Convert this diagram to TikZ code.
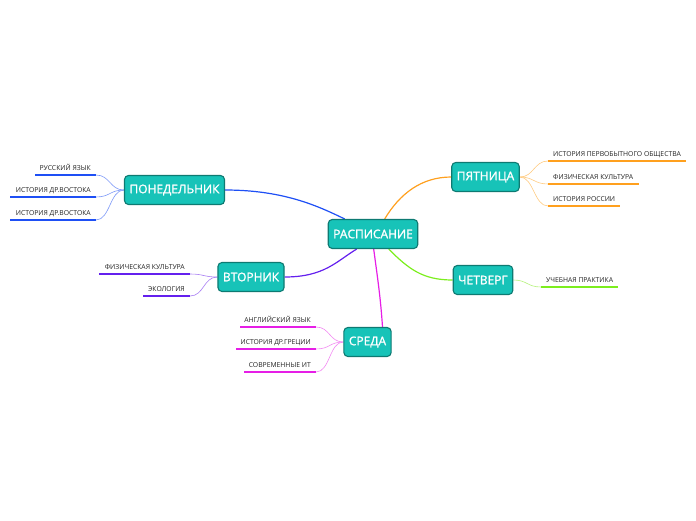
\documentclass[tikz,border=0pt]{standalone}
\usepackage{fontspec}
\setmainfont{Open Sans}
\newfontfamily\topicfont{Open Sans}[FakeBold=1.3]
\usetikzlibrary{calc,backgrounds}
\definecolor{teal1}{HTML}{17C3B8}
\definecolor{teal2}{HTML}{0E7A72}
\definecolor{cblue}{HTML}{1E4FF5}
\definecolor{lblue}{HTML}{7C98F7}
\definecolor{cpurp}{HTML}{6420EE}
\definecolor{lpurp}{HTML}{A77CF3}
\definecolor{cmag}{HTML}{E61EE6}
\definecolor{lmag}{HTML}{F28AF2}
\definecolor{corg}{HTML}{FFA01E}
\definecolor{lorg}{HTML}{FFCB80}
\definecolor{clime}{HTML}{7CEE1E}
\definecolor{llime}{HTML}{B6F27C}
\definecolor{ltext}{HTML}{222222}
\tikzset{
  topic/.style={draw=teal2, fill=teal1, line width=1.1pt, rounded corners=4pt,
    text=white, font=\topicfont\fontsize{12}{14}\selectfont, minimum height=29pt,
    inner xsep=5pt, inner ysep=0pt},
  leaf/.style={text=ltext, font=\fontsize{6.8}{8}\selectfont, inner sep=0pt},
  under/.style={line width=1.6pt},
  mainline/.style={line width=1.2pt},
  subline/.style={line width=0.6pt}
}
\begin{document}
\begin{tikzpicture}[x=1pt,y=-1pt]
\useasboundingbox (0,0) rectangle (696,520);
% main topics
\node[topic] (c) at (373,234) {РАСПИСАНИЕ};
\node[topic] (mon) at (174.5,190) {ПОНЕДЕЛЬНИК};
\node[topic] (tue) at (251,277) {ВТОРНИК};
\node[topic] (wed) at (367.5,342) {СРЕДА};
\node[topic] (fri) at (485.5,177) {ПЯТНИЦА};
\node[topic] (thu) at (483,280) {ЧЕТВЕРГ};
% anchor points on central node
\coordinate (cmon) at ($(c.north west)+(17,0)$);
\coordinate (ctue) at ($(c.south west)+(29,0)$);
\coordinate (cwed) at ($(c.south west)+(46,0)$);
\coordinate (cfri) at ($(c.north west)+(57,0)$);
\coordinate (cthu) at ($(c.south west)+(61,0)$);
\coordinate (wtop) at ($(wed.north)+(15,0)$);
% leaves: Monday
\coordinate (m1a) at (96,175); \coordinate (m1b) at (35,175);
\coordinate (m2a) at (96,197); \coordinate (m2b) at (10,197);
\coordinate (m3a) at (96,220); \coordinate (m3b) at (10,220);
\node[leaf, anchor=base east] (m1) at (91,170) {РУССКИЙ ЯЗЫК};
\node[leaf, anchor=base east] (m2) at (91,192) {ИСТОРИЯ ДР.ВОСТОКА};
\node[leaf, anchor=base east] (m3) at (91,215) {ИСТОРИЯ ДР.ВОСТОКА};
% Tuesday
\coordinate (t1a) at (190,274); \coordinate (t1b) at (99,274);
\coordinate (t2a) at (190,296); \coordinate (t2b) at (143,296);
\node[leaf, anchor=base east] (t1) at (185,269) {ФИЗИЧЕСКАЯ КУЛЬТУРА};
\node[leaf, anchor=base east] (t2) at (185,291) {ЭКОЛОГИЯ};
% Wednesday
\coordinate (w1a) at (316,327); \coordinate (w1b) at (240,327);
\coordinate (w2a) at (316,349); \coordinate (w2b) at (236,349);
\coordinate (w3a) at (316,372); \coordinate (w3b) at (244,372);
\node[leaf, anchor=base east] (w1) at (311,322) {АНГЛИЙСКИЙ ЯЗЫК};
\node[leaf, anchor=base east] (w2) at (311,344) {ИСТОРИЯ ДР.ГРЕЦИИ};
\node[leaf, anchor=base east] (w3) at (311,367) {СОВРЕМЕННЫЕ ИТ};
% Friday
\coordinate (f1a) at (548,161); \coordinate (f1b) at (686,161);
\coordinate (f2a) at (548,184); \coordinate (f2b) at (639,184);
\coordinate (f3a) at (548,206); \coordinate (f3b) at (620,206);
\node[leaf, anchor=base west] (f1) at (553,156) {ИСТОРИЯ ПЕРВОБЫТНОГО ОБЩЕСТВА};
\node[leaf, anchor=base west] (f2) at (553,179) {ФИЗИЧЕСКАЯ КУЛЬТУРА};
\node[leaf, anchor=base west] (f3) at (553,201) {ИСТОРИЯ РОССИИ};
% Thursday
\coordinate (h1a) at (541,287); \coordinate (h1b) at (618,287);
\node[leaf, anchor=base west] (h1) at (546,282) {УЧЕБНАЯ ПРАКТИКА};
\begin{scope}[on background layer]
% main connectors
\draw[mainline, cblue] (mon.east) .. controls +(60,0) and +(-25,-12) .. (cmon);
\draw[mainline, cpurp] (tue.east) .. controls +(40,0) and +(-20,12) .. (ctue);
\draw[mainline, cmag] (cwed) .. controls +(4,30) and +(-2,-30) .. (wtop);
\draw[mainline, corg] (cfri) .. controls +(15,-25) and +(-30,0) .. (fri.west);
\draw[mainline, clime] (cthu) .. controls +(20,20) and +(-30,0) .. (thu.west);
% sub connectors
\foreach \a in {m1a,m2a,m3a}
  \draw[subline, lblue] (mon.west) .. controls +(-14,0) and +(14,0) .. (\a);
\foreach \a in {t1a,t2a}
  \draw[subline, lpurp] (tue.west) .. controls +(-14,0) and +(14,0) .. (\a);
\foreach \a in {w1a,w2a,w3a}
  \draw[subline, lmag] (wed.west) .. controls +(-14,0) and +(14,0) .. (\a);
\foreach \a in {f1a,f2a,f3a}
  \draw[subline, lorg] (fri.east) .. controls +(14,0) and +(-14,0) .. (\a);
\draw[subline, llime] (thu.east) .. controls +(14,0) and +(-14,0) .. (h1a);
% underlines
\draw[under, cblue] (m1a) -- (m1b);
\draw[under, cblue] (m2a) -- (m2b);
\draw[under, cblue] (m3a) -- (m3b);
\draw[under, cpurp] (t1a) -- (t1b);
\draw[under, cpurp] (t2a) -- (t2b);
\draw[under, cmag] (w1a) -- (w1b);
\draw[under, cmag] (w2a) -- (w2b);
\draw[under, cmag] (w3a) -- (w3b);
\draw[under, corg] (f1a) -- (f1b);
\draw[under, corg] (f2a) -- (f2b);
\draw[under, corg] (f3a) -- (f3b);
\draw[under, clime] (h1a) -- (h1b);
\end{scope}
\end{tikzpicture}
\end{document}
